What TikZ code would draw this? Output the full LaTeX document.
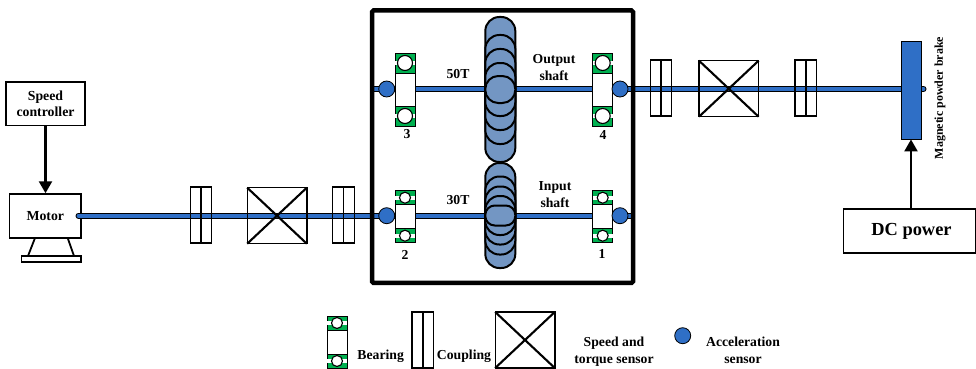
\documentclass[tikz,border=0pt]{standalone}
\usepackage{fontspec}
\setmainfont{Liberation Serif}
\usetikzlibrary{arrows.meta,positioning}
\definecolor{shaftblue}{HTML}{2F6FC6}
\definecolor{gearblue}{HTML}{7396C3}
\definecolor{racegreen}{HTML}{00B050}
\tikzset{
  boxnode/.style={draw, line width=1.5pt, inner sep=0pt, align=center, font=\bfseries\fontsize{13.8}{16}\selectfont},
  lbl/.style={inner sep=0pt, align=center, font=\bfseries\fontsize{13.7}{17}\selectfont},
  shaft/.style={draw=black, line width=1.1pt, double=shaftblue, double distance=3.8pt, line cap=round},
  gear/.style={draw, line width=2pt, fill=gearblue, minimum width=30pt, inner sep=0pt},
  accel/.style={circle, draw, line width=0.8pt, fill=shaftblue, minimum size=16pt, inner sep=0pt},
  feed/.style={line width=2.4pt, -{Triangle[length=12pt,width=13pt]}},
  coupling/.pic={
    \draw[line width=1.3pt] (-10.8,-28) rectangle (10.8,28);
    \draw[line width=1.4pt] (0,-28) -- (0,28);
  },
  torquebox/.pic={
    \draw[line width=1.4pt] (-29.8,-28) rectangle (29.8,28);
    \draw[line width=2.1pt] (-29.8,-28) -- (29.8,28) (-29.8,28) -- (29.8,-28);
  },
  pics/bearing/.style n args={3}{code={
    \draw[fill=white, line width=0.8pt] (-10,-#1) rectangle (10,#1);
    \foreach \s in {-1,1} {
      \draw[fill=racegreen, line width=0.8pt] (-10,\s*#1) rectangle (10,{\s*(#1-#2)});
      \fill[white] (-10,{\s*(#1-#2/2)-1.8}) rectangle (10,{\s*(#1-#2/2)+1.8});
      \draw[fill=white, line width=1.1pt] (0,{\s*(#1-#2/2)}) circle (#3);
    }
  }},
}
\begin{document}
\begin{tikzpicture}[x=1pt,y=-1pt]
\useasboundingbox (0,0) rectangle (976,369);

% motor side
\node[boxnode, minimum width=79pt, minimum height=43.5pt] (speed) at (45.5,103.5) {Speed\\controller};
\node[boxnode, minimum width=71.5pt, minimum height=44pt] (motor) at (45.3,216) {Motor};
\node[draw, line width=1.3pt, minimum width=59.5pt, minimum height=6pt, inner sep=0pt] (base) at (51.3,259) {};
\draw[line width=1.8pt] (35,238) -- (28,256) (67.7,238) -- (74,256);
\draw[feed] (speed) -- (motor.north -| speed);

% shafts
\coordinate (inputstart) at (78.5,215.7);
\coordinate (inputend) at (631,215.7);
\coordinate (outputstart) at (373,89);
\coordinate (outputend) at (923.5,89);
\draw[shaft] (inputstart) -- (inputend);
\draw[shaft] (outputstart) -- (outputend);

% couplings and torque sensors
\pic at (201,215) {coupling};
\pic at (277,215.7) {torquebox};
\pic at (343.5,215) {coupling};
\pic at (661,88) {coupling};
\pic at (728.8,88.7) {torquebox};
\pic at (805.8,88) {coupling};

% gearbox
\node[draw, line width=4.5pt, rounded corners=1.5pt, minimum width=261pt, minimum height=272.5pt, inner sep=0pt] (gearbox) at (502.5,146.7) {};
\foreach \h/\r [count=\i] in {72.5/14,54.5/14,40.5/14,26.5/14,13.5/13}
  \node[gear, minimum height=2*\h, rounded corners=\r] (geartop\i) at (500.3,89.5) {};
\foreach \h/\r [count=\i] in {52.5/14,39/14,29/14,19.5/14,10/9.5}
  \node[gear, minimum height=2*\h, rounded corners=\r] (gearlow\i) at (500.3,215.5) {};

\pic at (405,89.5) {bearing={36.5}{20}{7.5}};
\pic at (602.7,89.5) {bearing={36.5}{20}{7.5}};
\pic at (405,216.7) {bearing={26}{14}{5.5}};
\pic at (602.7,216.7) {bearing={26}{14}{5.5}};

\node[accel] (acc3) at (386.7,89) {};
\node[accel] (acc4) at (620,89) {};
\node[accel] (acc2) at (386.7,215.7) {};
\node[accel] (acc1) at (620,215.7) {};

\node[lbl] (bearing3) at (407,134.5) {3};
\node[lbl] (bearing4) at (603,135) {4};
\node[lbl] (bearing2) at (405,255) {2};
\node[lbl] (bearing1) at (602,254) {1};
\node[lbl] (teeth50) at (458,74) {50T};
\node[lbl] (teeth30) at (458,200) {30T};
\node[lbl] (output) at (554,67.5) {Output\\shaft};
\node[lbl] (input) at (555,195) {Input\\shaft};

% brake side
\node[draw, line width=0.9pt, fill=shaftblue, minimum width=20pt, minimum height=98pt, inner sep=0pt] (brake) at (911,90) {};
\node[lbl, rotate=90, font=\bfseries\fontsize{12}{14}\selectfont] (braketext) at (940,98) {Magnetic powder brake};
\node[boxnode, minimum width=132pt, minimum height=44pt] (dc) at (909.6,231.2) {};
\node[inner sep=0pt, font=\bfseries\fontsize{18.4}{20}\selectfont] (dctext) at (911.5,231) {DC power};
\draw[feed] (dc.north -| brake) -- (brake);

% legend
\pic at (337,342) {bearing={26}{14}{5.5}};
\node[lbl] (legbearing) at (380.7,356.7) {Bearing};
\pic at (422.8,340) {coupling};
\node[lbl] (legcoupling) at (464,356.7) {Coupling};
\pic at (525,340) {torquebox};
\node[lbl] (legtorque) at (614,352) {Speed and\\torque sensor};
\node[accel] (legacc) at (682.7,335.7) {};
\node[lbl] (legacctext) at (743,350.3) {Acceleration\\sensor};
\end{tikzpicture}
\end{document}
